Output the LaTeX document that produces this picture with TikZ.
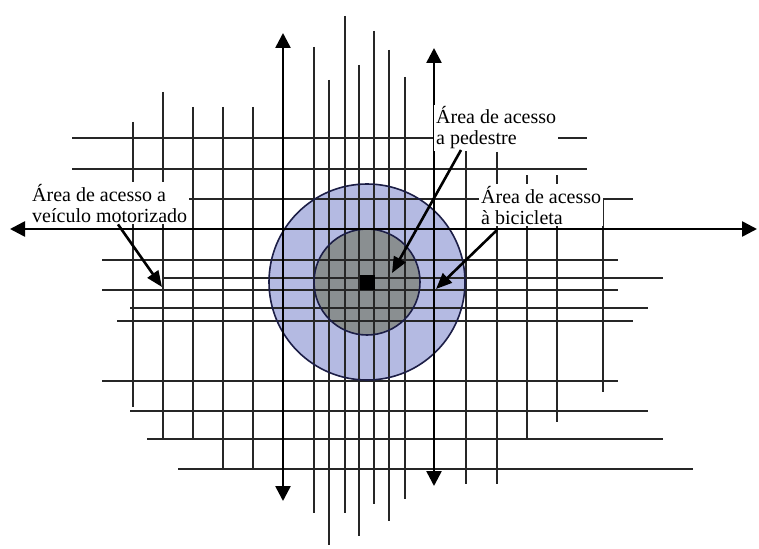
\documentclass[tikz,border=0pt]{standalone}
\usepackage{fontspec}
\setmainfont{Liberation Serif}
\usetikzlibrary{arrows.meta}
\definecolor{outerblue}{RGB}{180,186,226}
\definecolor{innergray}{RGB}{138,143,145}
\definecolor{ringline}{RGB}{28,30,70}
\begin{document}
\begin{tikzpicture}[x=1pt,y=-1pt,
  gridline/.style={line width=1.2pt, black!85},
  axis/.style={line width=2.6pt, {Triangle[length=15pt,width=15pt]}-{Triangle[length=15pt,width=15pt]}},
  pointer/.style={line width=2.6pt, -{Triangle[length=16pt,width=13pt]}},
  lbl/.style={font=\fontsize{20}{21}\selectfont, align=left, fill=white, inner sep=2pt, anchor=base west},
  ring/.style={line width=1.6pt, draw=ringline}]
\useasboundingbox[fill=white] (0,0) rectangle (759,548);
% circles (fills)
\fill[outerblue] (367,282) circle[radius=98];
\fill[innergray] (367,282) circle[radius=53];
% vertical grid lines
\foreach \x/\a/\b in {133/122/407,163/92/439,193/107/439,223/107/469,253/107/469,
  314/47/513,329/80/545,345/16/513,359/65/536,374/31/504,389/50/521,405/77/499,
  466/148/484,497/152/484,527/175/439,557/175/422,603/198/392}
  \draw[gridline] (\x,\a) -- (\x,\b);
% horizontal grid lines
\foreach \y/\a/\b in {138/72/587,169/72/587,199/187/633,260/102/618,278/163/663,
  290/102/618,308/130/648,321/117/633,381/102/618,411/130/648,439/147/663,469/178/693}
  \draw[gridline] (\a,\y) -- (\b,\y);
% ring outlines and centre
\draw[ring] (367,282) circle[radius=98];
\draw[ring] (367,282) circle[radius=53];
\fill[black] (360,275) rectangle (375,290);
% vertical axes
\coordinate (v1t) at (283,33); \coordinate (v1b) at (283,501);
\coordinate (v2t) at (434,48); \coordinate (v2b) at (434,486);
\draw[axis] (v1t) -- (v1b);
\draw[axis] (v2t) -- (v2b);
% labels (base anchor = baseline of the last line)
\node[lbl] (lcar) at (30,222) {Área de acesso a\\veículo motorizado};
\node[lbl] (lped) at (434,145) {Área de acesso\\a pedestre};
\node[lbl] (lbic) at (479,224) {Área de acesso\\à bicicleta};
% horizontal axis
\coordinate (hl) at (10,229); \coordinate (hr) at (757,229);
\draw[axis] (hl) -- (hr);
% pointers
\coordinate (pcar) at (162,287);
\coordinate (pped) at (392,273);
\coordinate (pbic) at (436,289);
\draw[pointer] (lcar.south west -| 118,231) -- (pcar);
\draw[pointer] (461,150) -- (pped);
\draw[pointer] (497,230) -- (pbic);
\end{tikzpicture}
\end{document}
